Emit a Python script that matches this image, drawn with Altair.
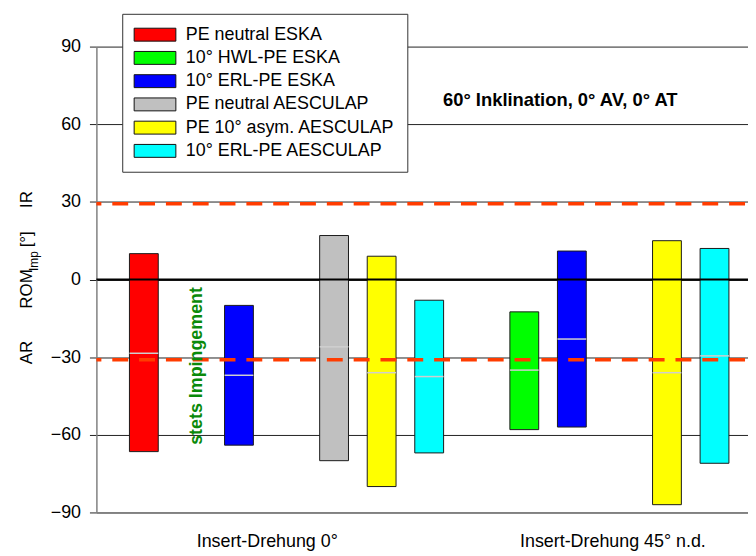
import altair as alt
import pandas as pd

FONT = "Liberation Sans"

# ---- data -------------------------------------------------------------
SERIES = ["PE neutral ESKA", "10° HWL-PE ESKA", "10° ERL-PE ESKA",
          "PE neutral AESCULAP", "PE 10° asym. AESCULAP", "10° ERL-PE AESCULAP"]
COLORS = ["#ff0000", "#00ff00", "#0000ff", "#c0c0c0", "#ffff00", "#00ffff"]
GROUPS = ["Insert-Drehung 0°", "Insert-Drehung 45° n.d."]

# order of the bar slots along x ("" = empty slot)
SLOTS_G1 = ["PE neutral ESKA", "10° HWL-PE ESKA", "10° ERL-PE ESKA", "",
            "PE neutral AESCULAP", "PE 10° asym. AESCULAP", "10° ERL-PE AESCULAP"]
SLOTS_G2 = ["PE neutral ESKA", "10° HWL-PE ESKA", "10° ERL-PE ESKA",
            "PE neutral AESCULAP", "PE 10° asym. AESCULAP", "10° ERL-PE AESCULAP"]

BAR_GROUP = [0, 0, 0, 0, 0, 1, 1, 1, 1]
BAR_SERIES = ["PE neutral ESKA", "10° ERL-PE ESKA", "PE neutral AESCULAP",
              "PE 10° asym. AESCULAP", "10° ERL-PE AESCULAP",
              "10° HWL-PE ESKA", "10° ERL-PE ESKA",
              "PE 10° asym. AESCULAP", "10° ERL-PE AESCULAP"]
BAR_LOW = [-66.5, -64.0, -70.0, -80.0, -67.0, -58.0, -57.0, -87.0, -71.0]
BAR_HIGH = [10.0, -10.0, 17.0, 9.0, -8.0, -12.5, 11.0, 15.0, 12.0]
BAR_MID = [-28.5, -37.0, -26.0, -36.0, -37.5, -35.0, -23.0, -36.0, -29.5]

REF_LIMITS = [29.3, -31.0]
Y_TICKS = [-90, -60, -30, 0, 30, 60, 90]

NOTE_TEXT = "stets Impingement"
NOTE_GROUP = 0
NOTE_SERIES = "10° HWL-PE ESKA"
NOTE_Y = -33.4

TITLE = "60° Inklination, 0° AV, 0° AT"

# ---- frames -----------------------------------------------------------
def slot_key(g, s):
    return f"{g}|{s}"

SLOT_DOMAIN = [slot_key(0, s) for s in SLOTS_G1] + [slot_key(1, s) for s in SLOTS_G2]

bars = pd.DataFrame({
    "slot": [slot_key(g, s) for g, s in zip(BAR_GROUP, BAR_SERIES)],
    "series": BAR_SERIES,
    "group": [GROUPS[g] for g in BAR_GROUP],
    "low": BAR_LOW,
    "high": BAR_HIGH,
    "mid": BAR_MID,
})
refs = pd.DataFrame({"y": REF_LIMITS})
zero = pd.DataFrame({"y": [0]})
note = pd.DataFrame({"slot": [slot_key(NOTE_GROUP, NOTE_SERIES)], "y": [NOTE_Y], "t": [NOTE_TEXT]})

W, H = 656, 469

x_axis = alt.Axis(title=None, labels=False, ticks=False, grid=False,
                  domainColor="#808080", domainWidth=1.5)
x_enc = alt.X("slot:N", axis=x_axis,
              scale=alt.Scale(domain=SLOT_DOMAIN, paddingInner=0.394,
                              paddingOuter=0.548, align=0.634, round=False))
y_scale = alt.Scale(domain=[-90, 90], nice=False, zero=False)
y_axis = alt.Axis(
    values=Y_TICKS, title=None, grid=True, gridColor="#222", gridWidth=1,
    gridOpacity=1, tickSize=7, tickColor="#222", tickWidth=1,
    domainColor="#808080", domainWidth=1.5, labelFont=FONT, labelFontSize=18,
    labelColor="black", labelPadding=9,
)

legend = alt.Legend(
    title=None, orient="none", legendX=26, legendY=-33,
    symbolType="M-1.385,-1L5.077,-1L5.077,1L-1.385,1Z", symbolSize=169,
    symbolStrokeColor="#111", symbolStrokeWidth=1, symbolOpacity=1,
    labelFontSize=18, labelFont=FONT, labelColor="black", labelOffset=34,
    labelLimit=0, rowPadding=5.4, padding=12, strokeColor="#333",
    fillColor="white", cornerRadius=0,
)

bar_layer = alt.Chart(bars).mark_bar(stroke="#1a1a1a", strokeWidth=1, opacity=1).encode(
    x=x_enc,
    y=alt.Y("low:Q", scale=y_scale, axis=y_axis),
    y2="high:Q",
    fill=alt.Fill("series:N", scale=alt.Scale(domain=SERIES, range=COLORS), legend=legend),
)

mid_layer = alt.Chart(bars).mark_tick(color="#cfcfcf", thickness=1.5, size=29, opacity=1).encode(
    x=x_enc,
    y=alt.Y("mid:Q", scale=y_scale, axis=y_axis),
)

zero_layer = alt.Chart(zero).mark_rule(color="black", strokeWidth=2.2).encode(
    y=alt.Y("y:Q", scale=y_scale, axis=y_axis)
)

ref_layer = alt.Chart(refs).mark_rule(
    color="#ff3c00", strokeWidth=3.5, strokeDash=[16, 11], strokeDashOffset=24
).encode(y=alt.Y("y:Q", scale=y_scale, axis=y_axis))

note_layer = alt.Chart(note).mark_text(
    angle=270, font=FONT, fontSize=18, fontWeight="bold", color="#0a8a0a",
    align="center", baseline="alphabetic", dy=10.5
).encode(x=x_enc, y=alt.Y("y:Q", scale=y_scale, axis=y_axis), text="t:N")


def label(text, x, y, size=18, angle=0, bold=False, color="black"):
    return alt.Chart(pd.DataFrame({"t": [text]})).mark_text(
        angle=angle, font=FONT, fontSize=size,
        fontWeight="bold" if bold else "normal", color=color,
        align="center", baseline="alphabetic",
    ).encode(x=alt.value(x), y=alt.value(y), text="t:N")


annotations = [
    label(TITLE, 467, 60, size=18.5, bold=True),
    label(GROUPS[0], 172, 504),
    label(GROUPS[1], 520, 504),
    # y-axis title: AR   ROM_Imp [°]   IR
    label("AR", -65, 308, size=17, angle=270),
    label("ROM", -65, 244, size=17, angle=270),
    label("Imp", -59, 216, size=12, angle=270),
    label("[°]", -65, 194, size=17, angle=270),
    label("IR", -65, 154, size=17, angle=270),
]

chart = alt.layer(
    bar_layer, mid_layer, zero_layer, ref_layer, note_layer, *annotations
).properties(
    width=W, height=H, background="white",
    autosize=alt.AutoSizeParams(type="none"),
    padding={"left": 89, "top": 37, "right": 0, "bottom": 42},
).configure_view(stroke=None)

chart.save("out.html", embed_options={"renderer": "svg", "actions": False})
